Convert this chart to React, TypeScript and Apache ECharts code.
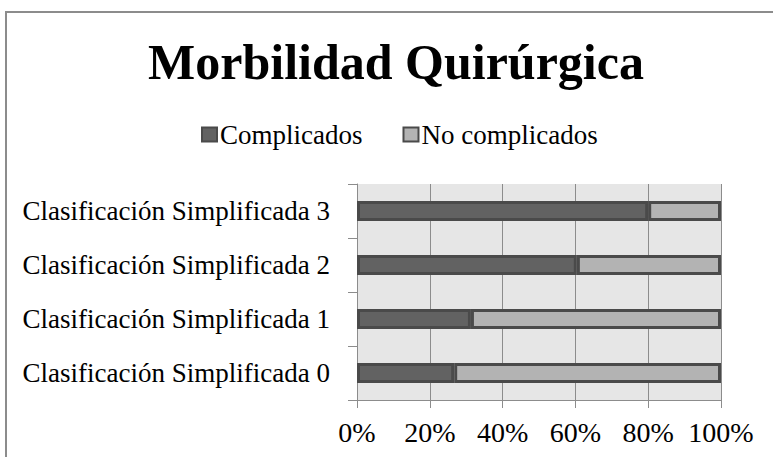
import React, { useEffect, useRef } from "react";
import * as echarts from "echarts";

const categories = [
  "Clasificación Simplificada 0",
  "Clasificación Simplificada 1",
  "Clasificación Simplificada 2",
  "Clasificación Simplificada 3",
];
const complicados = [26.7, 31.3, 60.4, 80.0];
const noComplicados = [73.3, 68.7, 39.6, 20.0];
const xTicks = [0, 20, 40, 60, 80, 100];

const FONT = "'Liberation Serif', 'Times New Roman', serif";

export default function App() {
  const ref = useRef<HTMLDivElement>(null);
  useEffect(() => {
    if (!ref.current) return;
    const chart = echarts.init(ref.current, undefined, { renderer: "svg" });
    chart.setOption({
      animation: false,
      backgroundColor: "#ffffff",
      graphic: [
        {
          type: "rect",
          shape: { x: 6, y: 12, width: 820, height: 520 },
          style: { fill: "none", stroke: "#8c8c8c", lineWidth: 2 },
          z: 0,
        },
      ],
      title: {
        text: "Morbilidad Quirúrgica",
        left: 396,
        textAlign: "center",
        top: 37,
        padding: 0,
        textStyle: { fontFamily: FONT, fontWeight: "bold", fontSize: 50, color: "#000" },
      },
      legend: {
        top: 121,
        left: 201,
        padding: 0,
        icon: "rect",
        itemWidth: 15,
        itemHeight: 14,
        itemGap: 40,
        textStyle: { fontFamily: FONT, fontSize: 27, color: "#000", padding: [0, 0, 0, -2] },
        data: ["Complicados", "No complicados"],
      },
      grid: {
        left: 357,
        right: 52,
        top: 184,
        bottom: 57,
        show: true,
        backgroundColor: "#e6e6e6",
        borderWidth: 0,
      },
      xAxis: {
        type: "value",
        min: xTicks[0],
        max: xTicks[xTicks.length - 1],
        interval: 20,
        axisLine: { show: true, lineStyle: { color: "#8c8c8c", width: 1 } },
        axisTick: { show: true, length: 8, lineStyle: { color: "#8c8c8c" } },
        splitLine: { show: true, lineStyle: { color: "#8c8c8c", width: 1 } },
        axisLabel: {
          formatter: "{value}%",
          fontFamily: FONT,
          fontSize: 28,
          color: "#000",
          margin: 18,
        },
      },
      yAxis: {
        type: "category",
        data: categories,
        axisLine: { show: true, lineStyle: { color: "#8c8c8c", width: 1 } },
        axisTick: { show: true, length: 9, lineStyle: { color: "#8c8c8c" } },
        axisLabel: { fontFamily: FONT, fontSize: 27, color: "#000", margin: 27 },
      },
      series: [
        {
          name: "Complicados",
          type: "bar",
          stack: "total",
          barWidth: 20,
          data: complicados,
          itemStyle: { color: "#626262", borderColor: "#4a4a4a", borderWidth: 3 },
        },
        {
          name: "No complicados",
          type: "bar",
          stack: "total",
          barWidth: 20,
          data: noComplicados,
          itemStyle: { color: "#b3b3b3", borderColor: "#4a4a4a", borderWidth: 3 },
        },
      ],
    });
    return () => chart.dispose();
  }, []);
  return (
    <div
      ref={ref}
      style={{ position: "fixed", left: 0, top: 0, width: 773, height: 457 }}
    />
  );
}
